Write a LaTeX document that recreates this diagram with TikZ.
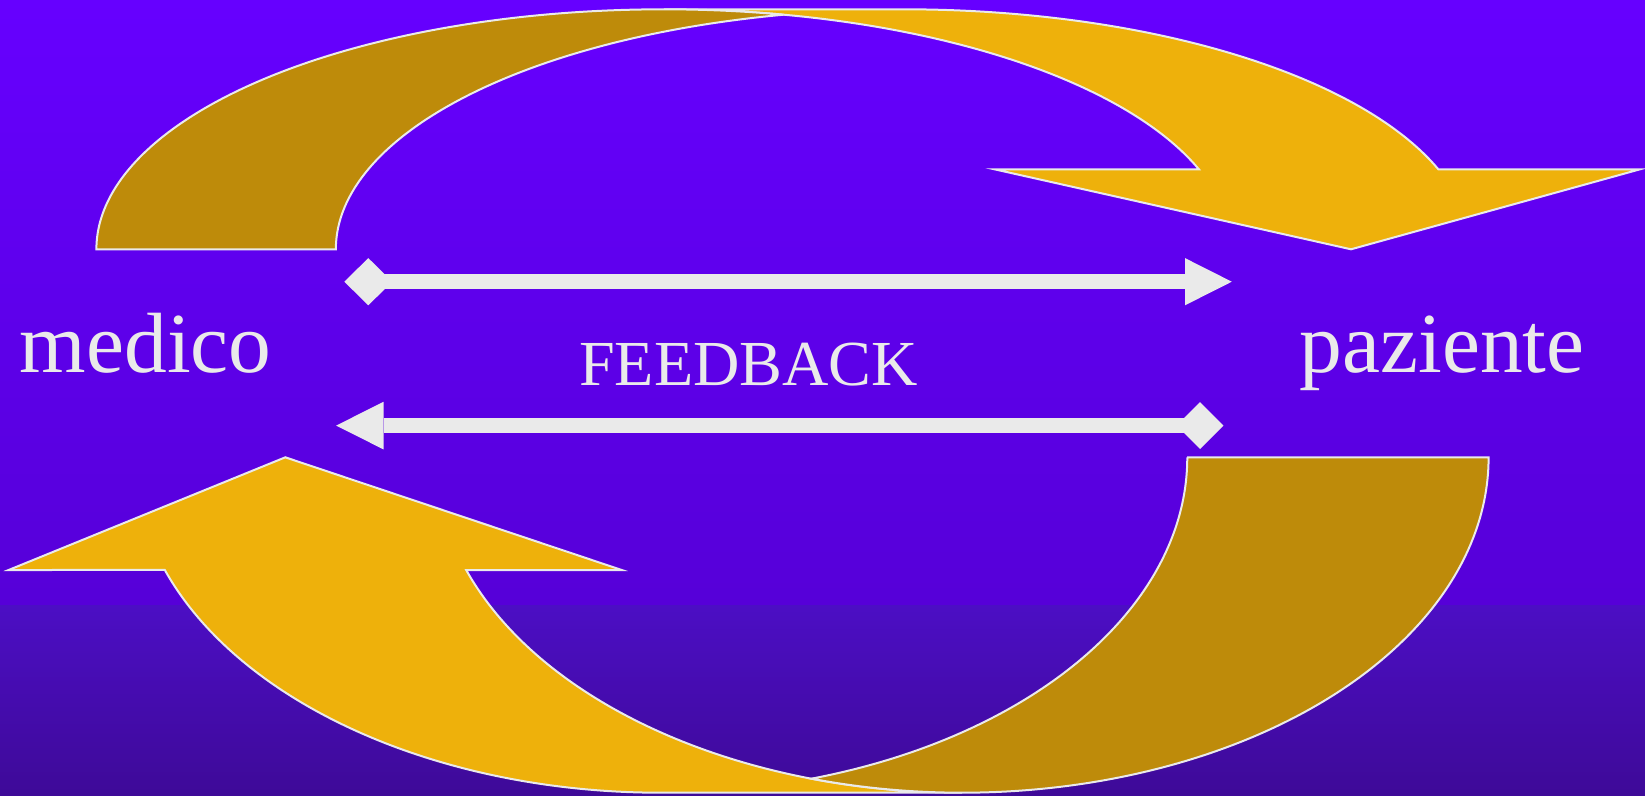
\documentclass[tikz,border=0pt]{standalone}
\usepackage{fontspec}
\setmainfont{Liberation Serif}
\definecolor{bgA}{RGB}{102,0,255}
\definecolor{bgB}{RGB}{86,0,216}
\definecolor{bgC}{RGB}{76,14,196}
\definecolor{bgD}{RGB}{62,10,152}
\definecolor{gold}{RGB}{238,177,11}
\definecolor{golddark}{RGB}{190,139,10}
\definecolor{pale}{RGB}{234,234,234}
\begin{document}
\begin{tikzpicture}[x=1pt,y=-1pt,
  lightband/.style={fill=gold,draw=pale,line width=2pt,line join=miter},
  darkband/.style={fill=golddark,draw=pale,line width=2pt,line join=miter},
  fbshaft/.style={draw=pale,line width=15.4pt,line cap=butt},
  fbhead/.style={fill=pale},
  lbl/.style={text=pale,inner sep=0pt,font=\fontsize{85.5}{90}\selectfont},
  fblbl/.style={text=pale,inner sep=0pt,font=\fontsize{64.2}{70}\selectfont}]
\useasboundingbox (0,0) rectangle (1645,795);
% background
\shade[top color=bgA,bottom color=bgB] (0,0) rectangle (1645,606);
\shade[top color=bgC,bottom color=bgD] (0,605) rectangle (1645,795);
% upper curved arrow
\filldraw[lightband] (1351,249.3) -- (994.5,169.3) -- (1198.9,169.3)
  arc[start angle=-19.47,end angle=-90,x radius=567.5,y radius=240]
  -- (903.3,9.3)
  arc[start angle=-90,end angle=-19.47,x radius=567.5,y radius=240]
  -- (1640,169.3) -- cycle;
\filldraw[darkband] (96.4,249.3)
  arc[start angle=180,end angle=282.18,x radius=567.5,y radius=240]
  arc[start angle=257.82,end angle=180,x radius=567.5,y radius=240]
  -- cycle;
% lower curved arrow
\filldraw[lightband] (285.3,457.3) -- (621.7,570) -- (466.2,570)
  arc[start angle=160.37,end angle=90,x radius=526.5,y radius=335.4]
  -- (660.7,792.7)
  arc[start angle=90,end angle=160.37,x radius=526.5,y radius=335.4]
  -- (8.6,570) -- cycle;
\filldraw[darkband] (1187.2,457.3) -- (1488.6,457.3)
  arc[start angle=0,end angle=106.63,x radius=526.5,y radius=335.4]
  arc[start angle=73.37,end angle=0,x radius=526.5,y radius=335.4]
  -- cycle;
% feedback double arrows
\coordinate (ta) at (368.3,281.7);
\coordinate (tb) at (1185,281.7);
\coordinate (ba) at (383.5,425.6);
\coordinate (bb) at (1200,425.6);
\draw[fbshaft] (ta) -- (tb);
\fill[fbhead] (ta) ++(-24,0) -- ++(24,-23.6) -- ++(24,23.6) -- ++(-24,23.6) -- cycle;
\fill[fbhead] (tb) ++(0,-23.6) -- ++(46.8,23.6) -- ++(-46.8,23.6) -- cycle;
\draw[fbshaft] (ba) -- (bb);
\fill[fbhead] (bb) ++(-23.4,0) -- ++(23.4,-23.4) -- ++(23.4,23.4) -- ++(-23.4,23.4) -- cycle;
\fill[fbhead] (ba) ++(0,-23.8) -- ++(-47.4,23.8) -- ++(47.4,23.8) -- cycle;
% labels
\node[lbl,anchor=base west] (medico) at (19.6,372.7) {medico};
\node[lbl,anchor=base west] (paziente) at (1299.5,372.7) {paziente};
\node[fblbl,anchor=base west] (feedback) at (579,385) {FEEDBACK};
\end{tikzpicture}
\end{document}
